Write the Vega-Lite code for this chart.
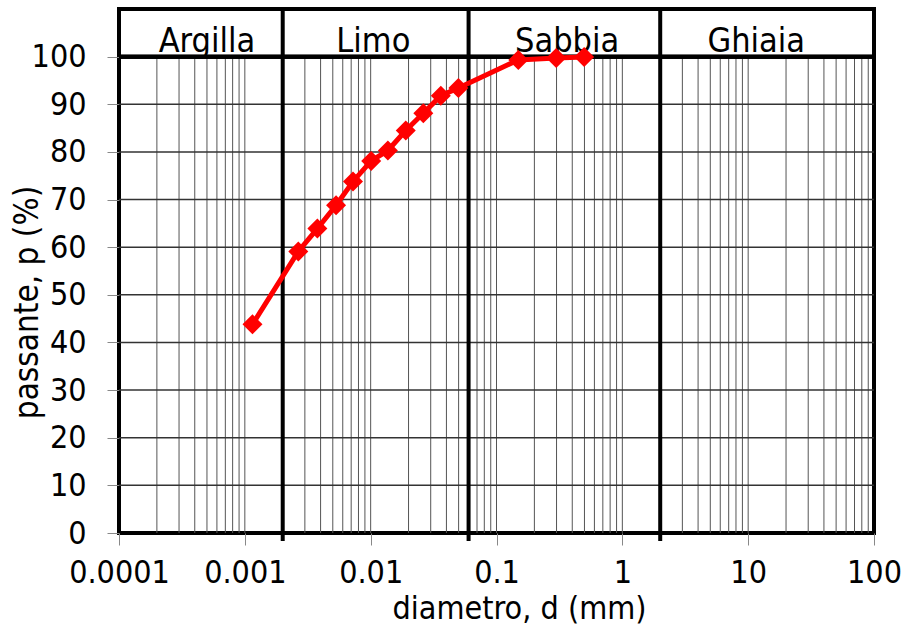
{
  "$schema": "https://vega.github.io/schema/vega-lite/v6.json",
  "width": 755,
  "height": 524,
  "autosize": {"type": "none"},
  "padding": {"left": 119, "top": 9, "right": 30, "bottom": 96},
  "config": {
    "font": "DejaVu Sans Condensed",
    "view": {"stroke": "black", "strokeWidth": 4},
    "background": "white"
  },
  "datasets": {
    "vgrid": [
      {"g": 0.0002}, {"g": 0.0003}, {"g": 0.0004}, {"g": 0.0005}, {"g": 0.0006}, {"g": 0.0007}, {"g": 0.0008}, {"g": 0.0009},
      {"g": 0.001}, {"g": 0.002}, {"g": 0.003}, {"g": 0.004}, {"g": 0.005}, {"g": 0.006}, {"g": 0.007}, {"g": 0.008}, {"g": 0.009},
      {"g": 0.01}, {"g": 0.02}, {"g": 0.03}, {"g": 0.04}, {"g": 0.05}, {"g": 0.06}, {"g": 0.07}, {"g": 0.08}, {"g": 0.09},
      {"g": 0.1}, {"g": 0.2}, {"g": 0.3}, {"g": 0.4}, {"g": 0.5}, {"g": 0.6}, {"g": 0.7}, {"g": 0.8}, {"g": 0.9},
      {"g": 1}, {"g": 2}, {"g": 3}, {"g": 4}, {"g": 5}, {"g": 6}, {"g": 7}, {"g": 8}, {"g": 9},
      {"g": 10}, {"g": 20}, {"g": 30}, {"g": 40}, {"g": 50}, {"g": 60}, {"g": 70}, {"g": 80}, {"g": 90}
    ],
    "hgrid": [
      {"h": 10}, {"h": 20}, {"h": 30}, {"h": 40}, {"h": 50}, {"h": 60}, {"h": 70}, {"h": 80}, {"h": 90}
    ],
    "bounds": [
      {"b": 0.002}, {"b": 0.06}, {"b": 2}
    ],
    "zones": [
      {"zone": "Argilla", "d": 0.0005},
      {"zone": "Limo", "d": 0.0105},
      {"zone": "Sabbia", "d": 0.364},
      {"zone": "Ghiaia", "d": 11.6}
    ],
    "curve": [
      {"d": 0.00115, "p": 43.8},
      {"d": 0.00266, "p": 59.1},
      {"d": 0.00377, "p": 63.9},
      {"d": 0.00531, "p": 68.8},
      {"d": 0.00724, "p": 73.8},
      {"d": 0.0101, "p": 78.1},
      {"d": 0.0137, "p": 80.3},
      {"d": 0.019, "p": 84.5},
      {"d": 0.0262, "p": 88.1},
      {"d": 0.0361, "p": 91.8},
      {"d": 0.0498, "p": 93.4},
      {"d": 0.149, "p": 99.3},
      {"d": 0.298, "p": 99.7},
      {"d": 0.497, "p": 99.9}
    ]
  },
  "layer": [
    {
      "data": {"name": "vgrid"},
      "mark": {"type": "rule", "color": "#555555", "strokeWidth": 1},
      "encoding": {
        "x": {
          "field": "g", "type": "quantitative",
          "scale": {"type": "log", "domain": [0.0001, 100], "nice": false},
          "axis": {
            "title": "diametro, d (mm)",
            "values": [0.0001, 0.001, 0.01, 0.1, 1, 10, 100],
            "format": "~g",
            "grid": false,
            "domain": false,
            "tickColor": "#888888",
            "tickSize": 12,
            "labelFontSize": 32,
            "labelColor": "black",
            "labelPadding": 12,
            "labelOverlap": false,
            "labelFlush": false,
            "titleFontSize": 32,
            "titleFontWeight": "normal",
            "titleColor": "black",
            "titleX": 400,
            "titleY": 85,
            "titleAlign": "center",
            "titleBaseline": "alphabetic"
          }
        },
        "y": {
          "datum": 0, "type": "quantitative",
          "scale": {"domain": [0, 110], "nice": false, "zero": false},
          "axis": {
            "title": "passante, p (%)",
            "values": [0, 10, 20, 30, 40, 50, 60, 70, 80, 90, 100],
            "grid": false,
            "domain": false,
            "tickColor": "#888888",
            "tickSize": 12,
            "labelFontSize": 32,
            "labelColor": "black",
            "labelPadding": 21,
            "labelOverlap": false,
            "labelFlush": false,
            "titleFontSize": 33,
            "titleFontWeight": "normal",
            "titleColor": "black",
            "titleAngle": -90,
            "titleX": -82,
            "titleY": 293,
            "titleAlign": "center",
            "titleBaseline": "alphabetic"
          }
        },
        "y2": {"datum": 100}
      }
    },
    {
      "data": {"name": "hgrid"},
      "mark": {"type": "rule", "color": "#333333", "strokeWidth": 1.5},
      "encoding": {
        "y": {"field": "h", "type": "quantitative"},
        "x": {"datum": 0.0001, "type": "quantitative"},
        "x2": {"datum": 100}
      }
    },
    {
      "data": {"name": "bounds"},
      "mark": {"type": "rule", "color": "black", "strokeWidth": 4},
      "encoding": {
        "x": {"field": "b", "type": "quantitative"},
        "y": {"datum": -1.7, "type": "quantitative"},
        "y2": {"datum": 110}
      }
    },
    {
      "data": {"name": "bounds"},
      "mark": {"type": "rule", "color": "black", "strokeWidth": 4},
      "encoding": {
        "y": {"datum": 100, "type": "quantitative"}
      }
    },
    {
      "data": {"name": "zones"},
      "mark": {"type": "text", "fontSize": 34, "align": "center", "baseline": "alphabetic", "color": "black"},
      "encoding": {
        "x": {"field": "d", "type": "quantitative"},
        "y": {"datum": 101, "type": "quantitative"},
        "text": {"field": "zone"}
      }
    },
    {
      "data": {"name": "curve"},
      "mark": {"type": "line", "color": "#ff0000", "strokeWidth": 5, "point": {"shape": "diamond", "size": 400, "filled": true, "color": "#ff0000", "opacity": 1}},
      "encoding": {
        "x": {"field": "d", "type": "quantitative"},
        "y": {"field": "p", "type": "quantitative"}
      }
    }
  ]
}
